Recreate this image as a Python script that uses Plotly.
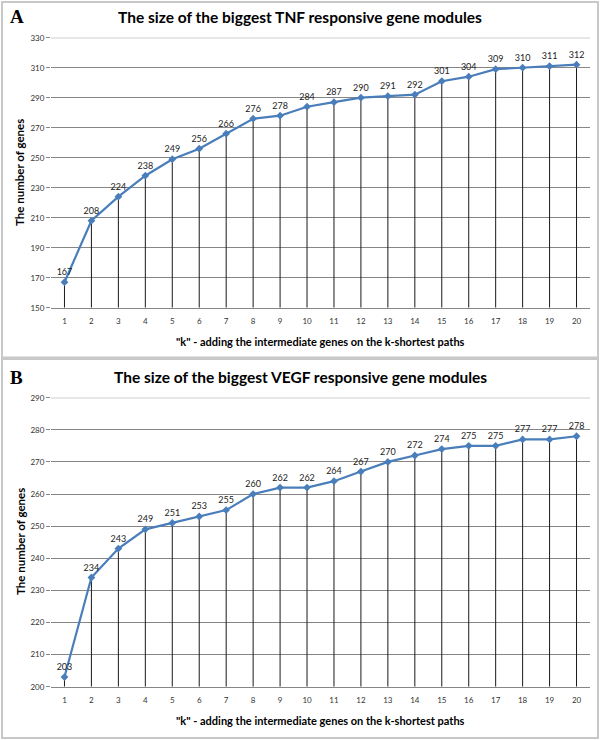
import plotly.graph_objects as go

k_values = list(range(1, 21))
tnf_sizes = [167, 208, 224, 238, 249, 256, 266, 276, 278, 284, 287, 290, 291, 292, 301, 304, 309, 310, 311, 312]
vegf_sizes = [203, 234, 243, 249, 251, 253, 255, 260, 262, 262, 264, 267, 270, 272, 274, 275, 275, 277, 277, 278]

tnf_ticks = [150, 170, 190, 210, 230, 250, 270, 290, 310, 330]
vegf_ticks = [200, 210, 220, 230, 240, 250, 260, 270, 280, 290]

title_a = "The size of the biggest TNF responsive gene modules"
title_b = "The size of the biggest VEGF responsive gene modules"
x_title = '"k" - adding the intermediate genes on the k-shortest paths'
y_title = "The number of genes"

W, H = 600, 740
LINE = "#4a7ebb"
FONT = "Lato"
GRID = "#868686"

def py(px):
    return 1 - px / H

fig = go.Figure()

panels = [
    (tnf_sizes, tnf_ticks, "x", "y"),
    (vegf_sizes, vegf_ticks, "x2", "y2"),
]
for vals, ticks, xa, ya in panels:
    base = ticks[0]
    dx, dy = [], []
    for k, v in zip(k_values, vals):
        dx += [k, k, None]
        dy += [base, v, None]
    fig.add_trace(go.Scatter(x=dx, y=dy, mode="lines", line=dict(color="#1a1a1a", width=1),
                             hoverinfo="skip", showlegend=False, xaxis=xa, yaxis=ya, cliponaxis=False))
    fig.add_trace(go.Scatter(x=k_values, y=vals, mode="lines+markers+text",
                             text=[str(v) for v in vals], textposition="top center",
                             textfont=dict(family=FONT, size=9, color="#222222"),
                             line=dict(color=LINE, width=2.2),
                             marker=dict(symbol="diamond", size=6, color=LINE),
                             showlegend=False, xaxis=xa, yaxis=ya, cliponaxis=False))

xdom = [51 / W, 590 / W]
common_x = dict(range=[0.5, 20.5], tickmode="array", tickvals=k_values, ticktext=[str(k) for k in k_values],
                showgrid=False, zeroline=False, showline=True, linecolor=GRID, linewidth=1,
                ticks="outside", ticklen=6, tickcolor="rgba(0,0,0,0)", automargin=False,
                tickfont=dict(family=FONT, size=8, color="#333333"), domain=xdom, fixedrange=True)
common_y = dict(showgrid=True, gridcolor=GRID, gridwidth=1, zeroline=False, showline=False,
                ticks="outside", ticklen=4, tickcolor=GRID, automargin=False,
                tickfont=dict(family=FONT, size=8, color="#333333"), fixedrange=True)

fig.update_layout(
    width=W, height=H, margin=dict(l=0, r=0, t=0, b=0, autoexpand=False),
    paper_bgcolor="white", plot_bgcolor="white",
    xaxis=dict(**common_x, anchor="y"),
    yaxis=dict(**common_y, range=[tnf_ticks[0], tnf_ticks[-1]], tickvals=tnf_ticks,
               domain=[py(307.7), py(37.7)], anchor="x"),
    xaxis2=dict(**common_x, anchor="y2"),
    yaxis2=dict(**common_y, range=[vegf_ticks[0], vegf_ticks[-1]], tickvals=vegf_ticks,
                domain=[py(686.7), py(397.7)], anchor="x2"),
)

shapes = [
    dict(type="rect", xref="paper", yref="paper", x0=2 / W, x1=598 / W, y0=py(357.5), y1=py(2),
         line=dict(color="#c8c8c8", width=2)),
    dict(type="rect", xref="paper", yref="paper", x0=2 / W, x1=598 / W, y0=py(738), y1=py(359),
         line=dict(color="#c8c8c8", width=2)),
    dict(type="line", xref="x domain", yref="y", x0=0, x1=1, y0=tnf_ticks[-1], y1=tnf_ticks[-1],
         line=dict(color=GRID, width=1), layer="below"),
    dict(type="line", xref="x2 domain", yref="y2", x0=0, x1=1, y0=vegf_ticks[-1], y1=vegf_ticks[-1],
         line=dict(color=GRID, width=1), layer="below"),
]
fig.update_layout(shapes=shapes)

ann = []
for lab, ytop, title, ymid, xt in [("A", 17, title_a, 173, 342), ("B", 377, title_b, 542, 720)]:
    ann.append(dict(text="<b>" + lab + "</b>", x=8 / W, y=py(ytop), xref="paper", yref="paper",
                    xanchor="left", yanchor="middle", showarrow=False,
                    font=dict(family="Liberation Serif", size=19, color="black")))
    ann.append(dict(text="<b>" + title + "</b>", x=300 / W, y=py(ytop), xref="paper", yref="paper",
                    xanchor="center", yanchor="middle", showarrow=False,
                    font=dict(family=FONT, size=15.5, color="black")))
    ann.append(dict(text="<b>" + y_title + "</b>", x=20 / W, y=py(ymid), xref="paper", yref="paper",
                    xanchor="center", yanchor="middle", showarrow=False, textangle=-90,
                    font=dict(family=FONT, size=11.5, color="black")))
    ann.append(dict(text="<b>" + x_title + "</b>", x=320 / W, y=py(xt), xref="paper", yref="paper",
                    xanchor="center", yanchor="middle", showarrow=False,
                    font=dict(family=FONT, size=11, color="black")))
fig.update_layout(annotations=ann)

fig.write_html("out.html", config={"displayModeBar": False},
               post_script="document.body.style.margin='0';document.body.style.overflow='hidden';")
